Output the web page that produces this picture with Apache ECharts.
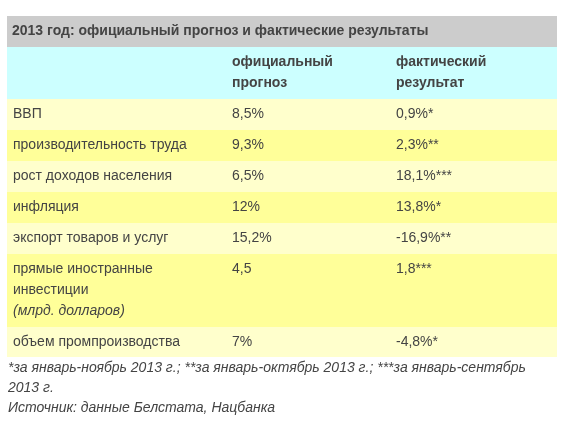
<!DOCTYPE html>
<html><head><meta charset="utf-8">
<script src="https://cdn.jsdelivr.net/npm/echarts@6/dist/echarts.min.js"></script>
<style>html,body{margin:0;padding:0;background:#fff}#c{width:572px;height:423px}</style>
</head><body><div id="c"></div>
<script>
const title = '2013 год: официальный прогноз и фактические результаты';
const headers = ['', 'официальный\nпрогноз', 'фактический\nрезультат'];
const categories = ['ВВП','производительность труда','рост доходов населения','инфляция','экспорт товаров и услуг','прямые иностранные\nинвестиции','объем промпроизводства'];
const forecast = ['8,5%','9,3%','6,5%','12%','15,2%','4,5','7%'];
const actual = ['0,9%*','2,3%**','18,1%***','13,8%*','-16,9%**','1,8***','-4,8%*'];
const notes = ['*за январь-ноябрь 2013 г.; **за январь-октябрь 2013 г.; ***за январь-сентябрь','2013 г.','Источник: данные Белстата, Нацбанка'];

const L = 7, R = 557, colX = [13, 232, 396];
const rowB = [99,130,161,192,223,254,327,357];
const fam = '"Liberation Sans", Arial, sans-serif';
const font = '14px ' + fam;
const g = [];
const txt = (x,y,t,f)=>({type:'text',x,y,style:{text:t,font:f,fill:'#444',lineHeight:21,verticalAlign:'top'}});
g.push({type:'rect',shape:{x:L,y:16,width:R-L,height:31},style:{fill:'#cccccc'}});
g.push(txt(12,21,title,'bold 14px '+fam));
g.push({type:'rect',shape:{x:L,y:47,width:R-L,height:52},style:{fill:'#ccffff'}});
headers.forEach((h,i)=>{ if(h) g.push(txt(colX[i],52,h,'bold 14px '+fam)); });
categories.forEach((c,i)=>{
  const y0=rowB[i], y1=rowB[i+1];
  g.push({type:'rect',shape:{x:L,y:y0,width:R-L,height:y1-y0},style:{fill:i%2?'#ffff99':'#ffffcc'}});
  const ty=y0+5;
  g.push(txt(colX[0],ty,c,font));
  if(i===5) g.push(txt(colX[0],ty+42,'(млрд. долларов)','italic '+font));
  g.push(txt(colX[1],ty,forecast[i],font));
  g.push(txt(colX[2],ty,actual[i],font));
});
notes.forEach((n,i)=>g.push(txt(8,358+i*20,n,'italic '+font)));
const chart = echarts.init(document.getElementById('c'));
chart.setOption({animation:false,graphic:g});
</script></body></html>
